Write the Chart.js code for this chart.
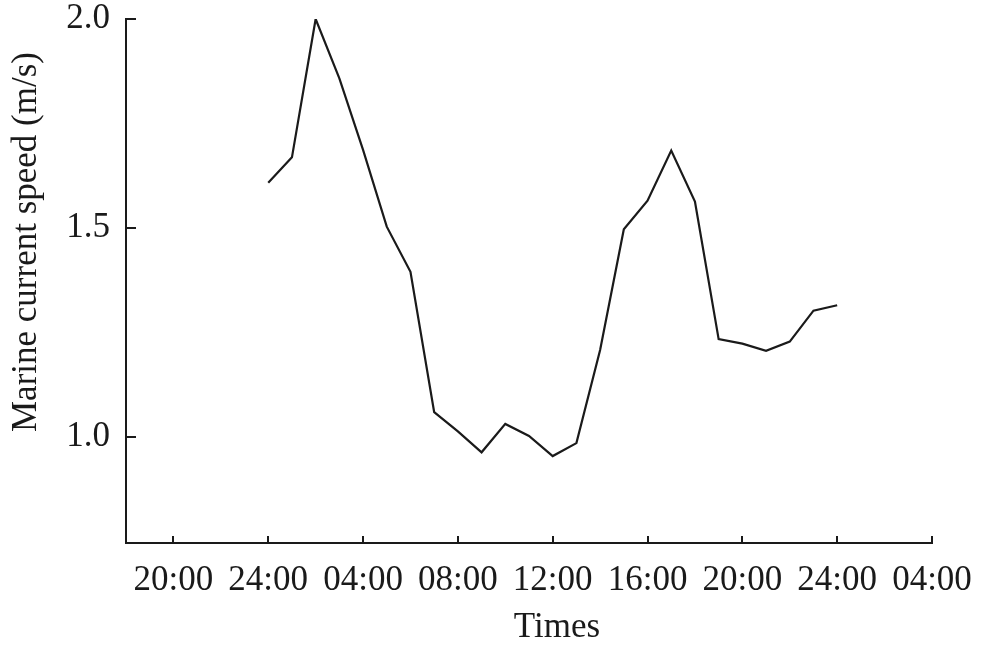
<!DOCTYPE html>
<html>
<head>
<meta charset="utf-8">
<script src="https://cdn.jsdelivr.net/npm/chart.js@4.4.0/dist/chart.umd.min.js"></script>
<style>
    html, body { margin: 0; padding: 0; background: #fff; }
</style>
</head>
<body>
<canvas id="speed-chart" width="986" height="646"></canvas>
<script>
// hours counted from the first 00:00 of the record (24 = midnight, 48 = next midnight)
const hours = [24, 25, 26, 27, 28, 29, 30, 31, 32, 33, 34, 35, 36,
               37, 38, 39, 40, 41, 42, 43, 44, 45, 46, 47, 48];
const speeds = [1.608, 1.669, 2.0, 1.858, 1.687, 1.503, 1.395, 1.059, 1.013, 0.963, 1.031, 1.002, 0.954,
                0.985, 1.208, 1.497, 1.565, 1.685, 1.563, 1.234, 1.223, 1.206, 1.228, 1.302, 1.315];

const xTickValues = [20, 24, 28, 32, 36, 40, 44, 48, 52];
const xTickLabels = ['20:00', '24:00', '04:00', '08:00', '12:00', '16:00', '20:00', '24:00', '04:00'];
const yTickValues = [1.0, 1.5, 2.0];

const fontFamily = '"Liberation Serif", "DejaVu Serif", serif';
const ink = '#1a1a1a';

// tick marks pointing into the plot, plus the two axis titles
const axisDecor = {
    id: 'axisDecor',
    afterDraw(chart) {
        const ctx = chart.ctx;
        const x = chart.scales.x;
        const y = chart.scales.y;
        const area = chart.chartArea;
        ctx.save();
        ctx.strokeStyle = ink;
        ctx.lineWidth = 2;
        x.ticks.forEach(t => {
            const px = Math.round(x.getPixelForValue(t.value));
            ctx.beginPath();
            ctx.moveTo(px, area.bottom);
            ctx.lineTo(px, area.bottom - 7);
            ctx.stroke();
        });
        y.ticks.forEach(t => {
            const py = Math.round(y.getPixelForValue(t.value));
            ctx.beginPath();
            ctx.moveTo(area.left, py);
            ctx.lineTo(area.left + 10, py);
            ctx.stroke();
        });

        ctx.fillStyle = ink;
        ctx.font = '35px ' + fontFamily;
        ctx.textAlign = 'center';
        ctx.textBaseline = 'middle';
        ctx.fillText('Times', area.left + 431, 628);

        ctx.translate(27, area.top + 223);
        ctx.rotate(-Math.PI / 2);
        ctx.fillText('Marine current speed (m/s)', 0, 0);
        ctx.restore();
    }
};

new Chart(document.getElementById('speed-chart').getContext('2d'), {
    type: 'line',
    data: {
        datasets: [{
            data: hours.map((h, i) => ({x: h, y: speeds[i]})),
            borderColor: ink,
            borderWidth: 2.2,
            pointRadius: 0,
            tension: 0,
            fill: false
        }]
    },
    options: {
        responsive: false,
        animation: false,
        layout: {
            padding: {top: 19, right: 54, left: 0, bottom: 0}
        },
        scales: {
            x: {
                type: 'linear',
                min: 18,
                max: 52,
                afterBuildTicks: scale => {
                    scale.ticks = xTickValues.map(v => ({value: v}));
                },
                afterFit: scale => {
                    scale.height = 103;
                    scale.paddingLeft = 0;
                    scale.paddingRight = 0;
                },
                grid: {display: false, drawTicks: false},
                border: {display: true, color: ink, width: 2},
                ticks: {
                    autoSkip: false,
                    maxRotation: 0,
                    padding: 17,
                    color: ink,
                    font: {family: fontFamily, size: 35},
                    callback: (value, index) => xTickLabels[index]
                }
            },
            y: {
                min: 0.746,
                max: 2.0,
                afterBuildTicks: scale => {
                    scale.ticks = yTickValues.map(v => ({value: v}));
                },
                afterFit: scale => {
                    scale.width = 126;
                    scale.paddingTop = 0;
                    scale.paddingBottom = 0;
                },
                grid: {display: false, drawTicks: false},
                border: {display: true, color: ink, width: 2},
                ticks: {
                    padding: 16,
                    color: ink,
                    font: {family: fontFamily, size: 35},
                    callback: value => value.toFixed(1)
                }
            }
        },
        plugins: {
            legend: {display: false},
            tooltip: {enabled: false}
        }
    },
    plugins: [axisDecor]
});
</script>
</body>
</html>
